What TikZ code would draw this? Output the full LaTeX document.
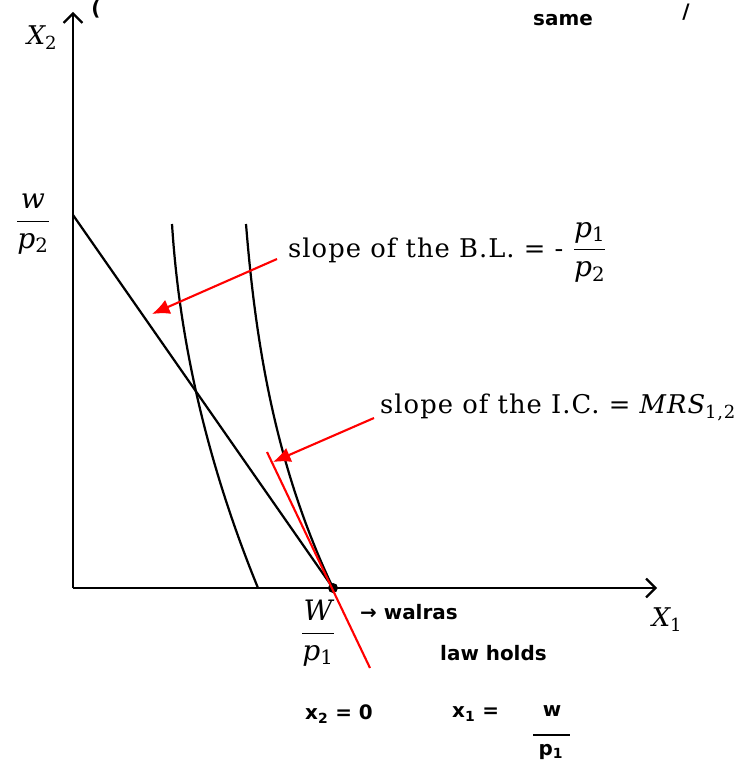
\documentclass[tikz,border=0pt]{standalone}
\usepackage{fontspec}
\newfontfamily\handfont{DejaVu Sans}
\newfontfamily\lblfont{DejaVu Serif}[LetterSpace=4]
\usetikzlibrary{arrows.meta}
\newcommand\myfr[2]{{\fontsize{24}{28}\selectfont$\displaystyle\frac{\mbox{#1}}{\mbox{#2}}$}}
\newcommand\sbs[1]{\textsubscript{\upshape #1}}
\begin{document}
\begin{tikzpicture}[x=0.03cm,y=-0.03cm,
  axis/.style={line width=1.9pt,-{Straight Barb[length=8pt,width=16pt,line width=1.9pt]}},
  curve/.style={line width=1.9pt},
  redline/.style={red,line width=1.8pt},
  redarrow/.style={red,line width=1.8pt,-{Latex[length=15pt,width=13pt]}},
  lbl/.style={font=\lblfont\fontsize{22}{26}\selectfont,inner sep=0pt},
  hand/.style={font=\handfont\bfseries\fontsize{17}{19}\selectfont,inner sep=0pt}]
\useasboundingbox (0,0) rectangle (748,763);
% axes
\coordinate (O) at (73,588);
\coordinate (ytop) at (73,12);
\coordinate (xend) at (657,588);
\draw[axis] (O) -- (ytop);
\draw[axis] (O) -- (xend);
\node[lbl] (X2) at (42,38) {\itshape X\sbs{2}};
\node[lbl] (X1) at (667,620) {\itshape X\sbs{1}};
% budget line
\coordinate (bltop) at (73,215);
\coordinate (dot) at (333,588);
\draw[curve] (bltop) -- (dot);
\fill (dot) circle (5);
\node[lbl] (wp2) at (33,224) {\myfr{\itshape w}{\itshape p\sbs{2}}};
\node[lbl] (wp1) at (318,633) {\myfr{\itshape W}{\itshape p\sbs{1}}};
% indifference curves
\coordinate (ic1a) at (172,224);
\coordinate (ic1b) at (258,588);
\coordinate (ic2a) at (246,224);
\draw[curve] (ic1a) .. controls (179.7,345.2) and (208.4,466.5) .. (ic1b);
\draw[curve] (ic2a) .. controls (255.7,345) and (275.6,467) .. (dot);
% tangent
\coordinate (t1) at (267,452);
\coordinate (t2) at (370,668);
\draw[redline] (t1) -- (t2);
% labels
\node[lbl,anchor=base west] (bl) at (288,257) {slope of the B.L. = - \myfr{\itshape p\sbs{1}}{\itshape p\sbs{2}}};
\node[lbl,anchor=base west] (ic) at (380,413) {slope of the I.C. = {\itshape MRS}\sbs{1,2}};
\coordinate (a1s) at (277,259);
\coordinate (a1e) at (152,314);
\coordinate (a2s) at (374,418);
\coordinate (a2e) at (273,462);
\draw[redarrow] (a1s) -- (a1e);
\draw[redarrow] (a2s) -- (a2e);
% handwritten notes
\node[hand] (paren1) at (96,9) {(};
\node[hand] (same) at (563,20) {same};
\node[hand] (paren2) at (686,12) {/};
\node[hand,anchor=west] (walras) at (360,612) {→ walras};
\node[hand,anchor=west] (law) at (440,653) {law holds};
\node[hand,anchor=west] (x2) at (305,714) {x\textsubscript{2} = 0};
\node[hand,anchor=west] (x1) at (452,714) {x\textsubscript{1} = };
\node[hand] (wnum) at (552,711) {w};
\draw[line width=2pt] (533,735) -- (570,735);
\node[hand] (pden) at (551,752) {p\textsubscript{1}};
\end{tikzpicture}
\end{document}
